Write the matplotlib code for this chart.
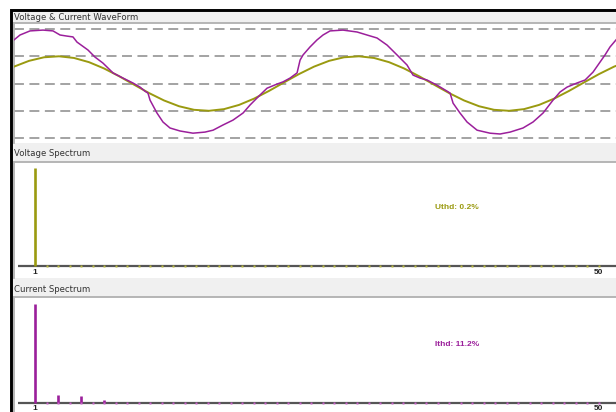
import matplotlib
matplotlib.use("Agg")
import matplotlib.pyplot as plt
from matplotlib.patches import Rectangle

# --- waveform data (time in ms, 50 Hz, two cycles) ---
v_time = list(range(0, 42))
v_values = [0.620, 0.832, 0.963, 0.999, 0.938, 0.784, 0.554, 0.270, -0.041, -0.348,
            -0.620, -0.832, -0.963, -0.999, -0.938, -0.784, -0.554, -0.270, 0.041, 0.348,
            0.620, 0.832, 0.963, 0.999, 0.938, 0.784, 0.554, 0.270, -0.041, -0.348,
            -0.620, -0.832, -0.963, -0.999, -0.938, -0.784, -0.554, -0.270, 0.041, 0.348,
            0.620, 0.832]

i_time = [0.0, 0.4, 1.07, 1.93, 2.6, 3.07, 3.53, 3.93, 4.2, 4.93, 5.4, 5.93, 6.6, 7.27,
          7.93, 8.4, 8.73, 8.93, 9.07, 9.53, 9.93, 10.4, 11.07, 11.93, 12.73, 13.27,
          13.93, 14.6, 15.27, 15.73, 16.4, 16.87, 17.53, 17.93, 18.4, 18.87, 19.07,
          19.27, 19.73, 20.2, 20.6, 21.07, 21.93, 22.87, 23.53, 24.2, 24.87, 25.53,
          26.2, 26.6, 27.07, 27.53, 28.2, 28.87, 29.07, 29.27, 29.73, 30.2, 30.87,
          31.73, 32.4, 33.07, 33.93, 34.6, 35.27, 35.93, 36.4, 36.87, 37.53, 38.07,
          38.6, 39.07, 39.4, 39.73, 40.13]
i_values = [1.60, 1.78, 1.93, 1.96, 1.93, 1.78, 1.74, 1.71, 1.52, 1.23, 0.97, 0.75, 0.39,
            0.20, 0.02, -0.13, -0.28, -0.35, -0.61, -1.08, -1.41, -1.63, -1.74, -1.82,
            -1.78, -1.71, -1.52, -1.34, -1.08, -0.79, -0.42, -0.17, -0.02, 0.06, 0.20,
            0.39, 0.86, 1.05, 1.34, 1.60, 1.78, 1.93, 1.96, 1.89, 1.78, 1.67, 1.41,
            1.05, 0.68, 0.31, 0.20, 0.13, -0.06, -0.28, -0.35, -0.72, -1.08, -1.41,
            -1.71, -1.82, -1.85, -1.78, -1.63, -1.41, -1.08, -0.61, -0.31, -0.13, 0.02,
            0.13, 0.42, 0.79, 1.05, 1.34, 1.60]

grid_levels = [-2, -1, 0, 1, 2]

# --- harmonic spectra (% of fundamental) ---
orders = list(range(1, 51))
u_harm = [100.0] + [0.1] * 49
i_harm = [100.0, 0.3, 8.2, 0.3, 6.8, 0.3, 3.5] + [0.3] * 43
u_thd = "Uthd: 0.2%"
i_thd = "Ithd: 11.2%"

VOLT_C = "#9a9a10"
CURR_C = "#9b1f9b"
W, H = 616, 412


def px_axes(fig, x0, y0, x1, y1):
    # axes from pixel box (y measured from the top)
    ax = fig.add_axes([x0 / W, 1 - y1 / H, (x1 - x0) / W, (y1 - y0) / H])
    ax.set_zorder(2)
    ax.set_xticks([])
    ax.set_yticks([])
    for s in ("right", "bottom"):
        ax.spines[s].set_visible(False)
    for s in ("top", "left"):
        ax.spines[s].set_color("#b0b0b0")
        ax.spines[s].set_linewidth(1.3)
    return ax


def spectrum(ax, values, color, dot_color, thd, ylo, yhi, label_y):
    ax.set_xlim(-0.826, 51.52)
    ax.set_ylim(ylo, yhi)
    ax.hlines(0, -0.48, 52, color="#555555", lw=1.6, zorder=2)
    ax.vlines(orders, 0, values, color=color, lw=1.9, zorder=3)
    ax.plot(orders[1:], [0] * 49, ls="none", marker="s", ms=1.8, color=dot_color,
            mec="none", zorder=4)
    for n in (1, 50):
        ax.text(n, label_y, str(n), ha="center", va="baseline", fontsize=6,
                fontweight="bold", family="Liberation Sans", color="#222222")
    ax.text(35.78, 59.5, thd, ha="left", va="center", fontsize=6, fontweight="bold",
            family="Liberation Sans", color=color)


fig = plt.figure(figsize=(W / 100, H / 100), dpi=100)
fig.patch.set_facecolor("white")
fig.patches.append(Rectangle((10.5 / W, -0.1), 1.2, 1.1 - 10 / H,
                             transform=fig.transFigure, facecolor="#f0f0f0",
                             edgecolor="black", linewidth=2.1, zorder=-1))

# waveform panel
ax_w = px_axes(fig, 14, 23, 616, 143)
ax_w.set_xlim(0, 40.13)
ax_w.set_ylim(-2.18, 2.22)
for g in grid_levels:
    ax_w.axhline(g, color="#8a8a8a", lw=1.1, dashes=(6.5, 3.6), zorder=1)
ax_w.plot(v_time, v_values, color=VOLT_C, lw=1.4, zorder=3)
ax_w.plot(i_time, i_values, color=CURR_C, lw=1.1, zorder=4)

ax_u = px_axes(fig, 14, 162, 616, 278)
spectrum(ax_u, u_harm, VOLT_C, "#b8b840", u_thd, -12.2, 106.1, -8.2)

ax_i = px_axes(fig, 14, 297, 616, 412)
spectrum(ax_i, i_harm, CURR_C, "#c860c8", i_thd, -9.1, 107.1, -6.6)

for label, ypx in [("Voltage & Current WaveForm", 17),
                   ("Voltage Spectrum", 153),
                   ("Current Spectrum", 289)]:
    fig.text(14 / W, 1 - ypx / H, label, ha="left", va="center", fontsize=6.1,
             family="DejaVu Sans", color="#333333", zorder=3)

fig.savefig("out.png", dpi=100)
